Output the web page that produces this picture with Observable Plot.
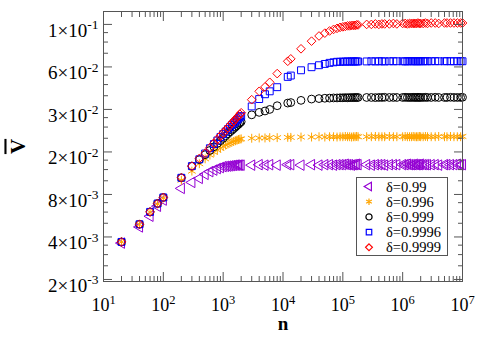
<!DOCTYPE html>
<html>
<head>
<meta charset="utf-8">
<script src="https://cdn.jsdelivr.net/npm/d3@7"></script>
<script src="https://cdn.jsdelivr.net/npm/@observablehq/plot@0.6"></script>
<style>
  body { margin: 0; background: #fff; }
  #wrap { position: relative; width: 498px; height: 338px; }
  #legend { position: absolute; left: 356px; top: 177px; width: 90px; height: 77px;
            border: 1px solid #555; background: #fff; }
  #legend svg { display: block; }
</style>
</head>
<body>
<div id="wrap"></div>
<script>
// ---- data ----
const nValues = [20,40,60,80,100,
  200,300,400,500,600,700,800,900,1000,1100,1200,1300,1400,1500,1600,1700,1800,1900,2000,
  3000,4000,5000,6000,8000,12000,13500,20000,
  30000,40000,50000,60000,70000,80000,90000,100000,110000,120000,130000,140000,150000,160000,170000,180000,
  250000,300000,350000,400000,450000,500000,600000,700000,800000,
  1000000,1100000,1200000,1300000,1400000,1500000,1600000,1700000,1800000,1900000,2000000,2200000,2400000,2600000,
  3000000,3500000,4000000,5000000,5500000,6300000,7200000,8200000,9300000,10000000];

const vDelta099 = [0.00362,0.00471,0.00561,0.0066,0.0073,
  0.00883,0.00974,0.0104,0.0111,0.0116,0.0119,0.0122,0.0124,0.0126,0.01265,0.0127,0.01275,0.0128,0.01285,0.0129,0.0129,0.0129,0.0129,0.0129,
  0.0129,0.013,0.0129,0.013,0.0129,0.013,0.013,0.0129,
  0.013,0.0129,0.013,0.013,0.0129,0.013,0.013,0.013,0.0131,0.013,0.013,0.0129,0.013,0.013,0.0131,0.013,
  0.013,0.0129,0.013,0.013,0.013,0.0129,0.013,0.013,0.013,
  0.013,0.013,0.0131,0.013,0.013,0.013,0.0131,0.013,0.013,0.013,0.0131,0.013,0.013,0.013,
  0.013,0.013,0.0129,0.013,0.013,0.013,0.013,0.0131,0.013,0.013];

const vDelta0996 = [0.00369,0.0049,0.006,0.00685,0.00755,
  0.0101,0.0117,0.0132,0.0143,0.0152,0.0159,0.0165,0.017,0.0175,0.0179,0.0182,0.0185,0.0188,0.019,0.0192,0.0194,0.0196,0.0197,0.0198,
  0.02,0.0201,0.0201,0.0202,0.0202,0.0203,0.0203,0.0204,
  0.0204,0.0205,0.0204,0.0205,0.0205,0.0204,0.0205,0.0205,0.0206,0.0205,0.0205,0.0204,0.0205,0.0205,0.0206,0.0205,
  0.0205,0.0205,0.0206,0.0205,0.0205,0.0205,0.0206,0.0205,0.0205,
  0.0205,0.0206,0.0205,0.0205,0.0205,0.0206,0.0205,0.0205,0.0205,0.0206,0.0205,0.0205,0.0206,0.0205,
  0.0205,0.0205,0.0206,0.0205,0.0205,0.0206,0.0205,0.0205,0.0205,0.0206];

const vDelta0999 = [0.00369,0.00492,0.00602,0.0069,0.00762,
  0.0105,0.0127,0.0141,0.0153,0.0164,0.0174,0.0184,0.0192,0.02,0.0208,0.0215,0.0222,0.0228,0.0234,0.024,0.0246,0.0251,0.0257,0.0262,
  0.0293,0.0305,0.0312,0.032,0.034,0.0355,0.0358,0.0371,
  0.0379,0.0382,0.0384,0.0385,0.0386,0.0386,0.0387,0.0387,0.0388,0.0387,0.0388,0.0388,0.0388,0.0389,0.0388,0.0389,
  0.0389,0.0389,0.0388,0.0389,0.0389,0.039,0.0389,0.0389,0.0389,
  0.0389,0.039,0.0389,0.0389,0.0389,0.039,0.0389,0.0389,0.039,0.0389,0.0389,0.0389,0.039,0.0389,
  0.0389,0.039,0.0389,0.0389,0.0389,0.039,0.0389,0.0389,0.0389,0.039];

const vDelta09996 = [0.00369,0.00492,0.00602,0.0069,0.00762,
  0.0105,0.0127,0.0142,0.0156,0.017,0.0182,0.0193,0.0204,0.0214,0.0223,0.0232,0.024,0.0248,0.0255,0.0262,0.0269,0.0276,0.0282,0.0288,
  0.0336,0.0379,0.041,0.043,0.046,0.0544,0.0556,0.0606,
  0.0637,0.0658,0.0672,0.0684,0.069,0.0696,0.0696,0.0698,0.0698,0.07,0.0698,0.07,0.07,0.07,0.07,0.07,
  0.07,0.0702,0.07,0.0702,0.0702,0.07,0.0702,0.0702,0.0702,
  0.0702,0.07,0.0702,0.0703,0.0702,0.0702,0.0703,0.0702,0.0702,0.0703,0.0702,0.0702,0.0703,0.0702,
  0.0702,0.0703,0.0702,0.0702,0.0703,0.0702,0.0702,0.0702,0.0703,0.0702];

const vDelta09999 = [0.00369,0.00492,0.00602,0.0069,0.00762,
  0.0105,0.0127,0.0144,0.0157,0.0171,0.0184,0.0196,0.0208,0.0218,0.0228,0.0238,0.0247,0.0256,0.0264,0.0272,0.0281,0.0288,0.0296,0.0303,
  0.0375,0.043,0.0462,0.0498,0.0574,0.0702,0.073,0.086,
  0.0974,0.106,0.111,0.115,0.118,0.12,0.122,0.123,0.124,0.125,0.125,0.126,0.126,0.126,0.127,0.127,
  0.128,0.128,0.129,0.128,0.129,0.129,0.129,0.13,0.129,
  0.13,0.13,0.129,0.13,0.13,0.13,0.13,0.13,0.131,0.13,0.13,0.13,0.131,0.13,
  0.131,0.131,0.13,0.131,0.131,0.131,0.131,0.131,0.131,0.131];

const seriesNames = ["δ=0.99", "δ=0.996", "δ=0.999", "δ=0.9996", "δ=0.9999"];
const seriesColors = ["#9400d3", "#ffa500", "#000000", "#0000ff", "#ff0000"];
const seriesSymbols = ["triangle", "asterisk", "circle", "square", "diamond2"];
const seriesRotate = [-90, 0, 0, 0, 0];

const xTickValues = [1e1, 1e2, 1e3, 1e4, 1e5, 1e6, 1e7];
const xTickLabels = ["10^1", "10^2", "10^3", "10^4", "10^5", "10^6", "10^7"];
const yTickValues = [0.002, 0.004, 0.008, 0.016, 0.032, 0.064, 0.128];
const yTickLabels = ["2×10^-3", "4×10^-3", "8×10^-3", "2×10^-2", "3×10^-2", "6×10^-2", "1×10^-1"];

// ---- build ----
const allSeries = [vDelta099, vDelta0996, vDelta0999, vDelta09996, vDelta09999];
const rows = allSeries.map(vs => nValues.map((n, i) => ({n, v: vs[i]})));

const xMinor = [];
for (let k = 1; k < 7; k++) for (let m = 2; m <= 9; m++) xMinor.push(m * Math.pow(10, k));
const yMinor = [];
yTickValues.slice(0, -1).forEach(t => [1.25, 1.5, 1.75].forEach(f => yMinor.push(t * f)));

const xLab = new Map(xTickValues.map((t, i) => [t, xTickLabels[i]]));
const yLab = new Map(yTickValues.map((t, i) => [t, yTickLabels[i]]));

const axisColor = "#555";
const font = '"Liberation Serif", "Times New Roman", serif';

const tickMarks = [];
for (const anchor of ["bottom", "top"]) {
  tickMarks.push(Plot.axisX(xTickValues, {anchor, tickSize: -9, tickFormat: () => "", label: null, stroke: axisColor}));
  tickMarks.push(Plot.axisX(xMinor, {anchor, tickSize: -5, tickFormat: () => "", label: null, stroke: axisColor}));
}
for (const anchor of ["left", "right"]) {
  tickMarks.push(Plot.axisY(yTickValues, {anchor, tickSize: -9, tickFormat: () => "", label: null, stroke: axisColor}));
  tickMarks.push(Plot.axisY(yMinor, {anchor, tickSize: -5, tickFormat: () => "", label: null, stroke: axisColor}));
}

const chart = Plot.plot({
  width: 498,
  height: 338,
  marginLeft: 103,
  marginRight: 36,
  marginTop: 11,
  marginBottom: 57,
  style: {fontFamily: font, fontSize: "18px", color: "#000", background: "#fff", overflow: "visible"},
  x: {type: "log", domain: [10, 1e7]},
  y: {type: "log", base: 2, domain: [0.001935, 0.158]},
  marks: [
    ...rows.map((data, i) => Plot.dot(data, {
      x: "n", y: "v",
      symbol: () => seriesSymbols[i],
      rotate: seriesRotate[i],
      r: i === 1 ? 4.2 : 3.9,
      stroke: seriesColors[i],
      fill: "none",
      strokeWidth: 1
    })),
    ...tickMarks,
    Plot.frame({stroke: axisColor, strokeWidth: 1}),
    Plot.axisX(xTickValues, {anchor: "bottom", tickSize: 0, tickPadding: 17, fontSize: 18,
      tickFormat: d => xLab.get(d), label: "n", labelAnchor: "center", labelOffset: 48, labelArrow: "none"}),
    Plot.axisY(yTickValues, {anchor: "left", tickSize: 0, tickPadding: 5, fontSize: 19, dy: 6,
      tickFormat: d => yLab.get(d), label: "V", labelAnchor: "center", labelOffset: 93, labelArrow: "none"})
  ]
});

document.getElementById("wrap").appendChild(chart);

// superscripts
const svg = d3.select(chart);
function superscript(sel, base, sup) {
  sel.each(function() {
    const t = d3.select(this);
    const s = t.text();
    const k = s.indexOf("^");
    if (k < 0) return;
    t.text(null).style("font-size", base + "px");
    t.append("tspan").text(s.slice(0, k));
    t.append("tspan").attr("dy", "-0.55em").style("font-size", sup + "px").text(s.slice(k + 1));
  });
}
superscript(svg.selectAll('g[aria-label="x-axis tick label"] text'), 18, 12.5);
superscript(svg.selectAll('g[aria-label="y-axis tick label"] text'), 19, 13.5);
svg.selectAll('g[aria-label="x-axis label"] text')
  .attr("font-weight", "bold").style("font-size", "19px");
svg.selectAll('g[aria-label="y-axis label"] text')
  .attr("font-weight", "bold").style("font-size", "21px").style("text-decoration", "overline");

// legend
const legend = d3.select("#wrap").append("div").attr("id", "legend");
const ls = legend.append("svg").attr("width", 90).attr("height", 77);
const symMap = {triangle: d3.symbolTriangle, asterisk: d3.symbolAsterisk, circle: d3.symbolCircle,
                square: d3.symbolSquare, diamond2: d3.symbolDiamond2};
seriesNames.forEach((name, i) => {
  const cy = 8.5 + i * 15.2;
  ls.append("path")
    .attr("d", d3.symbol(symMap[seriesSymbols[i]], 30)())
    .attr("transform", `translate(12,${cy}) rotate(${seriesRotate[i]})`)
    .attr("fill", "none").attr("stroke", seriesColors[i]).attr("stroke-width", 1.2);
  ls.append("text").attr("x", 29).attr("y", cy + 5)
    .attr("font-family", font).style("font-size", "14.5px").attr("fill", "#000")
    .text(name);
});
</script>
</body>
</html>
